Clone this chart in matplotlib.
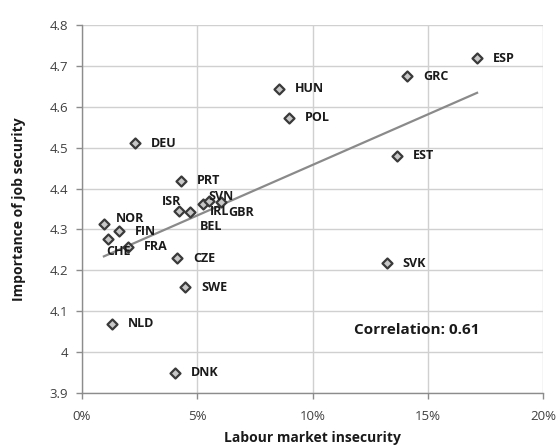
import numpy as np
import matplotlib
matplotlib.use("Agg")
import matplotlib.pyplot as plt
from matplotlib.ticker import FuncFormatter, MultipleLocator

plt.rcParams['font.family'] = ['Open Sans', 'DejaVu Sans']

countries = ["ESP", "GRC", "HUN", "POL", "DEU", "EST", "PRT", "ISR", "BEL", "IRL",
             "SVN", "GBR", "NOR", "FIN", "CHE", "FRA", "CZE", "SVK", "SWE", "NLD", "DNK"]
insecurity = [17.14, 14.10, 8.55, 8.98, 2.30, 13.67, 4.30, 4.22, 4.69, 5.24,
              5.52, 6.02, 0.95, 1.62, 1.14, 1.98, 4.14, 13.22, 4.48, 1.30, 4.05]
importance = [4.719, 4.675, 4.644, 4.573, 4.511, 4.480, 4.419, 4.346, 4.342, 4.363,
              4.369, 4.367, 4.313, 4.296, 4.277, 4.258, 4.230, 4.217, 4.159, 4.069, 3.950]

# label offsets in pixels (dx, dy, ha)
label_pos = {
    "NOR": (12, 6, "left"), "CHE": (-2, -13, "left"), "ISR": (2, 9, "right"),
    "BEL": (10, -14, "left"), "IRL": (7, -8, "left"), "SVN": (-1, 5, "left"),
    "GBR": (7, -10, "left"),
}

fig = plt.figure(figsize=(5.59, 4.48), dpi=100)
ax = fig.add_axes([82/559, 1-393/448, (543-82)/559, (393-25)/448])

x = np.array(insecurity) / 100
y = np.array(importance)

coef = np.polyfit(x, y, 1)
xs = np.array([x.min(), x.max()])
ax.plot(xs, np.polyval(coef, xs), color='#8a8a8a', lw=1.6, zorder=2)

ax.scatter(x, y, marker='D', s=26, facecolor='#c8c8c8', edgecolor='#3a3a3a',
           linewidths=1.6, zorder=3)

for c, xi, yi in zip(countries, x, y):
    dx, dy, ha = label_pos.get(c, (16, 0, "left"))
    ax.annotate(c, (xi, yi), xytext=(dx, dy), textcoords='offset pixels',
                ha=ha, va='center', fontsize=9, fontweight='bold', color='#1a1a1a', zorder=4)

ax.set_xlim(0, 0.20)
ax.set_ylim(3.9, 4.8)
ax.xaxis.set_major_locator(MultipleLocator(0.05))
ax.yaxis.set_major_locator(MultipleLocator(0.1))
ax.xaxis.set_major_formatter(FuncFormatter(lambda v, p: f"{v*100:.0f}%"))
ax.yaxis.set_major_formatter(FuncFormatter(lambda v, p: "4" if abs(v-4) < 1e-9 else f"{v:.1f}"))
ax.grid(True, color='#d0d0d0', lw=1.0, zorder=0)
ax.set_axisbelow(True)
for s in ['top', 'right']:
    ax.spines[s].set_visible(False)
for s in ['left', 'bottom']:
    ax.spines[s].set_color('#8c8c8c')
    ax.spines[s].set_linewidth(1.0)
ax.tick_params(axis='both', colors='#8c8c8c', labelcolor='#404040', labelsize=9.5, length=4, width=1)
ax.tick_params(axis='x', pad=8)
ax.tick_params(axis='y', pad=6)
ax.set_xlabel("Labour market insecurity", fontsize=10, fontweight='bold', color='#1a1a1a')
ax.set_ylabel("Importance of job security", fontsize=10, fontweight='bold', color='#1a1a1a')
ax.xaxis.set_label_coords((312-82)/461, (393-431)/368)
ax.yaxis.set_label_coords((26-82)/461, 0.5)

ax.text(0.1453, 4.054, "Correlation: 0.61", ha='center', va='center', fontsize=11,
        fontweight='bold', color='#1a1a1a')

fig.savefig("out.png", dpi=100)
